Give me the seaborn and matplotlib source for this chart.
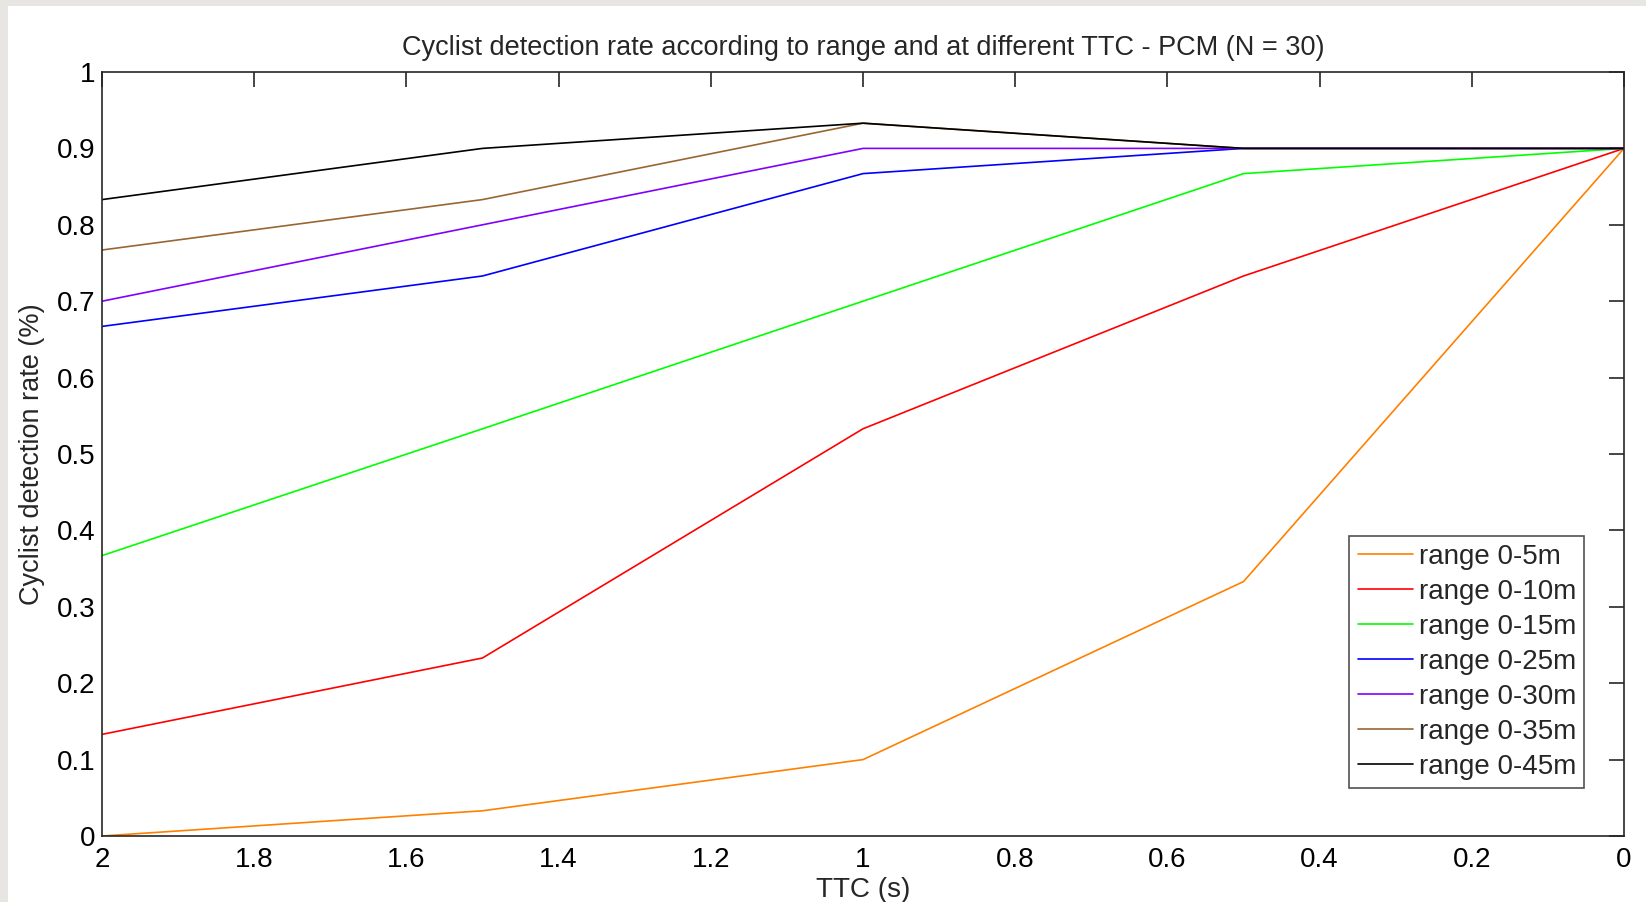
import matplotlib
matplotlib.use("Agg")
import matplotlib.pyplot as plt
import seaborn as sns
import pandas as pd

ttc = [2.0, 1.5, 1.0, 0.5, 0.0]
range_labels = ["range 0-5m", "range 0-10m", "range 0-15m", "range 0-25m",
                "range 0-30m", "range 0-35m", "range 0-45m"]
r05 = [0.0, 0.033, 0.1, 0.333, 0.9]
r10 = [0.133, 0.233, 0.533, 0.733, 0.9]
r15 = [0.367, 0.533, 0.7, 0.867, 0.9]
r25 = [0.667, 0.733, 0.867, 0.9, 0.9]
r30 = [0.7, 0.8, 0.9, 0.9, 0.9]
r35 = [0.767, 0.833, 0.933, 0.9, 0.9]
r45 = [0.833, 0.9, 0.933, 0.9, 0.9]
series = [r05, r10, r15, r25, r30, r35, r45]
colors = ["#ff8000", "#ff0000", "#00ff00", "#0000ff", "#8000ff", "#996633", "#000000"]
xticks = [2, 1.8, 1.6, 1.4, 1.2, 1, 0.8, 0.6, 0.4, 0.2, 0]
yticks = [0, 0.1, 0.2, 0.3, 0.4, 0.5, 0.6, 0.7, 0.8, 0.9, 1]

rows = []
for lab, vals in zip(range_labels, series):
    for x, y in zip(ttc, vals):
        rows.append({"TTC": x, "rate": y, "range": lab})
df = pd.DataFrame(rows)

sns.set_theme(style="white")
plt.rcParams['font.family'] = ['Liberation Sans', 'DejaVu Sans']

fig = plt.figure(figsize=(16.46, 9.02), dpi=100, facecolor="white")
fig.patches.append(plt.Rectangle((0, 0), 8 / 1646, 1, transform=fig.transFigure,
                                 facecolor="#e8e6e3", edgecolor="none", zorder=-1))
fig.patches.append(plt.Rectangle((0, 1 - 6 / 902), 1, 6 / 902, transform=fig.transFigure,
                                 facecolor="#e8e6e3", edgecolor="none", zorder=-1))
ax = fig.add_axes([102 / 1646, 1 - 836 / 902, (1624 - 102) / 1646, (836 - 72) / 902])

sns.lineplot(data=df, x="TTC", y="rate", hue="range", hue_order=range_labels,
             palette=dict(zip(range_labels, colors)), linewidth=1.2, ax=ax,
             estimator=None, sort=False)

ax.set_xlim(2, 0)
ax.set_ylim(0, 1)
ax.set_xticks(xticks)
ax.set_xticklabels([f"{t:g}" for t in xticks])
ax.set_yticks(yticks)
ax.set_yticklabels([f"{t:g}" for t in yticks])
ax.tick_params(direction="in", length=11, width=1.2, top=True, right=True,
               labelsize=20, colors="#262626", labelcolor="black", pad=5)
ax.tick_params(axis="x", pad=8)
for s in ax.spines.values():
    s.set_color("#262626")
    s.set_linewidth(1.2)

ax.set_title("Cyclist detection rate according to range and at different TTC - PCM (N = 30)",
             fontsize=19.5, pad=12)
ax.set_xlabel("TTC (s)", fontsize=20, labelpad=3)
ax.set_ylabel("Cyclist detection rate (%)", fontsize=19.5, labelpad=8)

leg = ax.legend(loc="lower right", bbox_to_anchor=(0.974, 0.063), fontsize=20,
                frameon=True, fancybox=False, handlelength=2.0, handletextpad=0.2,
                borderpad=0.3, labelspacing=0.32, borderaxespad=0)
leg.get_frame().set_edgecolor("#262626")
leg.get_frame().set_linewidth(1.2)

fig.savefig("out.png", dpi=100, facecolor="white")
